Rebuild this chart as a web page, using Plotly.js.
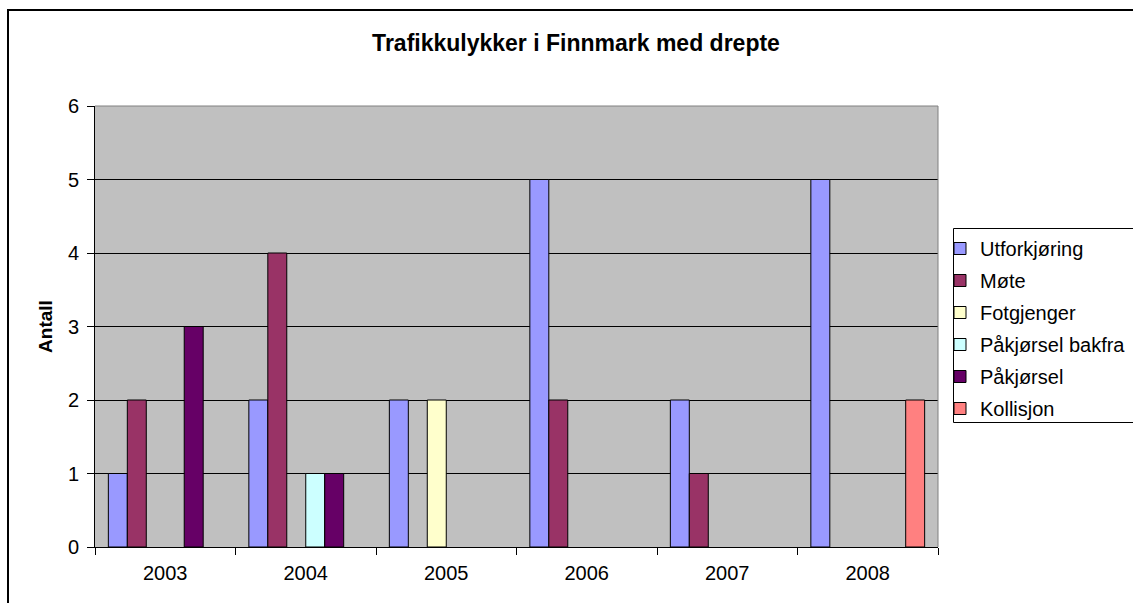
<!DOCTYPE html>
<html>
<head>
<meta charset="utf-8">
<script src="https://cdn.plot.ly/plotly-3.0.1.min.js"></script>
<style>
  html, body { margin: 0; padding: 0; overflow: hidden; background: #fff; }
  #chart { width: 1200px; height: 650px; position: absolute; left: 0; top: 0; }
  #frame { position: absolute; left: 7px; top: 9px; width: 1300px; height: 800px;
           border: 2px solid #000; pointer-events: none; }
</style>
</head>
<body>
<div id="chart"></div>
<div id="frame"></div>
<script>
const years = ['2003', '2004', '2005', '2006', '2007', '2008'];
const seriesNames = ['Utforkjøring', 'Møte', 'Fotgjenger', 'Påkjørsel bakfra', 'Påkjørsel', 'Kollisjon'];
const utforkjoring   = [1, 2, 2, 5, 2, 5];
const mote           = [2, 4, null, 2, 1, null];
const fotgjenger     = [null, null, 2, null, null, null];
const pakjorselBakfra= [null, 1, null, null, null, null];
const pakjorsel      = [3, 1, null, null, null, null];
const kollisjon      = [null, null, null, null, null, 2];
const seriesValues = [utforkjoring, mote, fotgjenger, pakjorselBakfra, pakjorsel, kollisjon];
const seriesColors = ['#9999FF', '#993366', '#FFFFCC', '#CCFFFF', '#660066', '#FF8080'];
const yTicks = [0, 1, 2, 3, 4, 5, 6];

const FONT = 'Liberation Sans, Arial, sans-serif';

const traces = seriesNames.map((name, i) => ({
  type: 'bar',
  name: name,
  x: years,
  y: seriesValues[i],
  legendgroup: 'g' + i,
  marker: { color: seriesColors[i], line: { color: '#000', width: 1 } },
  hoverinfo: 'x+y+name'
}));

const W = 1200, H = 650;
const L = 95, R = 938, T = 106, B = 547;
const px = v => (v - L) / (R - L);
const py = v => (B - v) / (B - T);

const layout = {
  width: W, height: H,
  margin: { l: L, r: W - R, t: T, b: H - B, pad: 0 },
  paper_bgcolor: '#ffffff',
  plot_bgcolor: '#C0C0C0',
  font: { family: FONT, size: 20, color: '#000' },
  barmode: 'group',
  bargap: 0.19,
  bargroupgap: 0,
  title: {
    text: '<b>Trafikkulykker i Finnmark med drepte</b>',
    font: { family: FONT, size: 23, color: '#000' },
    xref: 'container', yref: 'container',
    x: 576 / W, xanchor: 'center',
    y: 1 - 43 / H, yanchor: 'middle'
  },
  xaxis: {
    type: 'category',
    showline: true, linecolor: '#000', linewidth: 1,
    ticks: 'outside', tickson: 'boundaries', ticklen: 7, tickcolor: '#000', tickwidth: 1,
    tickfont: { family: FONT, size: 20, color: '#000' },
    ticklabelstandoff: 8,
    showgrid: false, zeroline: false, fixedrange: true
  },
  yaxis: {
    range: [0, 6],
    tickvals: yTicks,
    showline: true, linecolor: '#000', linewidth: 1,
    ticks: 'outside', ticklen: 7, tickcolor: '#000', tickwidth: 1,
    tickfont: { family: FONT, size: 20, color: '#000' },
    ticklabelstandoff: 4,
    showgrid: true, gridcolor: '#000', gridwidth: 1,
    zeroline: false, fixedrange: true,
    title: { text: '<b>Antall</b>', font: { family: FONT, size: 19, color: '#000' }, standoff: 10 }
  },
  legend: {
    x: px(940), xanchor: 'left',
    y: py(229), yanchor: 'top',
    bgcolor: 'rgba(0,0,0,0)', borderwidth: 0,
    font: { family: FONT, size: 20, color: '#000' },
    traceorder: 'grouped', tracegroupgap: 3
  },
  shapes: [
    { type: 'line', xref: 'paper', yref: 'paper', x0: 0, x1: 1, y0: 1, y1: 1,
      line: { color: '#808080', width: 1 }, layer: 'above' },
    { type: 'line', xref: 'paper', yref: 'paper', x0: 1, x1: 1, y0: 0, y1: 1,
      line: { color: '#808080', width: 1 }, layer: 'above' },
    { type: 'rect', xref: 'paper', yref: 'paper', x0: px(953.5), x1: px(1250), y0: py(228.5), y1: py(422.5),
      fillcolor: '#ffffff', line: { color: '#000', width: 1 }, layer: 'above' }
  ],
  showlegend: true
};

Plotly.newPlot('chart', traces, layout, { displayModeBar: false, staticPlot: true });
</script>
</body>
</html>
